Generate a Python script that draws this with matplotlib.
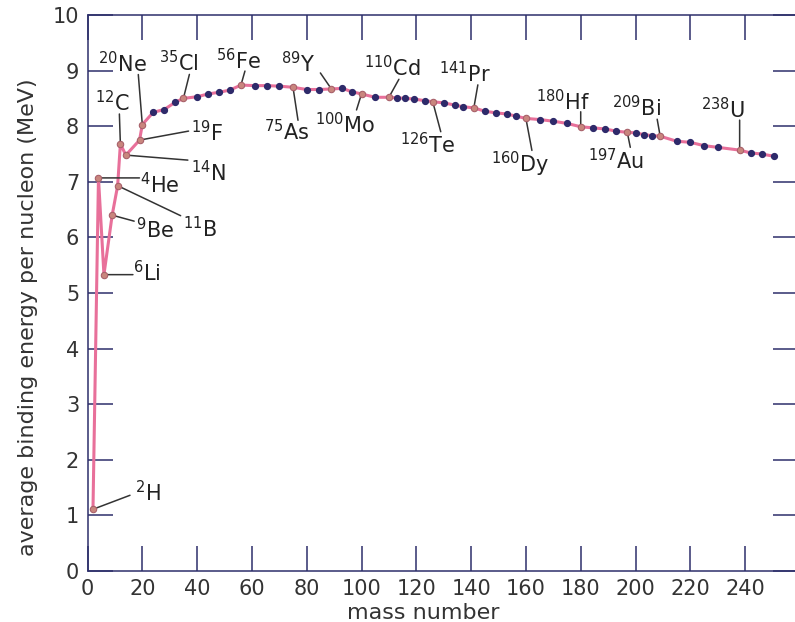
import matplotlib
matplotlib.use("Agg")
import matplotlib.pyplot as plt

# labelled nuclides
symbols = ["H", "He", "Li", "Be", "B", "C", "N", "F", "Ne", "Cl", "Fe",
           "As", "Y", "Mo", "Cd", "Te", "Pr", "Dy", "Hf", "Au", "Bi", "U"]
mass_lab = [2, 4, 6, 9, 11, 12, 14, 19, 20, 35, 56,
            75, 89, 100, 110, 126, 141, 160, 180, 197, 209, 238]
be_lab = [1.11, 7.07, 5.33, 6.40, 6.93, 7.68, 7.48, 7.75, 8.03, 8.50, 8.74,
          8.70, 8.67, 8.58, 8.52, 8.44, 8.33, 8.14, 7.99, 7.89, 7.82, 7.57]

# other nuclides (small dots)
mass_dot = [24, 28, 32, 40, 44, 48, 52, 61, 65.5, 70, 80, 84.5, 93, 96.5,
            105, 113, 116, 119, 123, 130, 134, 137, 145, 149, 153, 156.5,
            165, 170, 175, 184.5, 189, 193, 200, 203, 206, 215, 220, 225, 230,
            242, 246, 250.5]
be_dot = [8.25, 8.30, 8.43, 8.53, 8.58, 8.61, 8.65, 8.73, 8.73, 8.72, 8.66, 8.66, 8.68, 8.62,
          8.52, 8.51, 8.50, 8.49, 8.46, 8.42, 8.38, 8.35, 8.27, 8.24, 8.22, 8.18,
          8.12, 8.09, 8.05, 7.97, 7.95, 7.91, 7.88, 7.85, 7.83, 7.73, 7.71, 7.65, 7.62,
          7.52, 7.50, 7.46]

# leader line end and label position, pixels from the point
leader_off = [(37, 14), (41, 0), (29, 0), (22, -6), (63, -30), (-1, 30), (62, -5),
              (49, 9), (-4, 50), (6, 24), (4, 14), (5, -33), (-11, 16), (-5, -16),
              (10, 18), (8, -30), (4, 23), (6, -32), (0, 15), (3, -15), (-3, 17), (0, 30)]
text_off = [(42, 8), (42, -15), (29, -7), (24, -23), (65, -52), (-25, 33), (65, -26),
            (51, -1), (-44, 52), (-24, 27), (-25, 16), (-29, -53), (-50, 17), (-47, -39),
            (-25, 21), (-33, -51), (-35, 26), (-35, -54), (-45, 17), (-39, -37), (-48, 20),
            (-39, 32)]

navy = "#2d2f6b"

pts = sorted(zip(mass_lab + mass_dot, be_lab + be_dot))
mass_all = [p[0] for p in pts]
be_all = [p[1] for p in pts]

fig = plt.figure(figsize=(7.95, 6.22), dpi=100)
ax = fig.add_axes([87.5/795, 51/622, (798-87.5)/795, 556/622])

ax.plot(mass_all, be_all, color="#e8709a", lw=2.2, zorder=2)
ax.plot(mass_dot, be_dot, "o", ms=4.2, color="#2e2a6a", zorder=3)
ax.plot(mass_lab, be_lab, "o", ms=4.6, mfc="#c9867e", mec="#a8606a", mew=0.8, zorder=3)

for m, s, a, e, lo, to in zip(mass_lab, symbols, mass_lab, be_lab, leader_off, text_off):
    ax.annotate("", xy=(a, e), xytext=lo, textcoords="offset pixels",
                arrowprops=dict(arrowstyle="-", color="#333333", lw=1.1,
                                shrinkA=0, shrinkB=0), zorder=2.5)
    ax.annotate(r"$\mathregular{^{%d}}$%s" % (m, s), xy=(a, e), xytext=to,
                textcoords="offset pixels", ha="left", va="baseline",
                fontsize=15, color="#222222")

ax.set_xlim(0, 259.3)
ax.set_ylim(0, 10)
ax.set_xticks(range(0, 241, 20))
ax.set_yticks(range(0, 11))
ax.tick_params(axis="both", direction="in", length=18, width=1.1, color=navy,
               labelsize=15, labelcolor="#333333", pad=6, top=True, right=True)
for sp in ax.spines.values():
    sp.set_color(navy)
    sp.set_linewidth(1.1)

ax.set_xlabel("mass number", fontsize=16, color="#333333")
ax.xaxis.set_label_coords(0.473, -0.058)
ax.set_ylabel("average binding energy per nucleon (MeV)", fontsize=16, color="#333333")
ax.yaxis.set_label_coords(-0.069, 0.457)

fig.savefig("out.png", dpi=100)
